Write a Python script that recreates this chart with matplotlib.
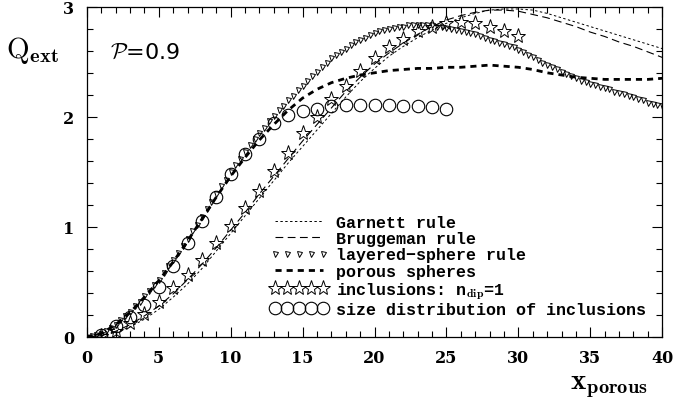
import matplotlib
matplotlib.use("Agg")
import matplotlib.pyplot as plt
from matplotlib.ticker import MultipleLocator

plt.rcParams['mathtext.fontset'] = 'cm'

# sample grid for the smooth curves
x_curve = list(range(41))

garnett = [0.00, 0.01, 0.04, 0.09, 0.16, 0.25, 0.36, 0.48, 0.62, 0.78,
           0.94, 1.10, 1.26, 1.42, 1.58, 1.73, 1.88, 2.03, 2.18, 2.32,
           2.44, 2.55, 2.64, 2.72, 2.79, 2.85, 2.90, 2.94, 2.97, 2.98,
           2.98, 2.97, 2.94, 2.90, 2.86, 2.82, 2.78, 2.74, 2.70, 2.66,
           2.62]

bruggeman = [0.00, 0.01, 0.05, 0.11, 0.19, 0.28, 0.39, 0.52, 0.66, 0.81,
             0.97, 1.13, 1.30, 1.46, 1.62, 1.78, 1.93, 2.08, 2.23, 2.36,
             2.48, 2.58, 2.67, 2.75, 2.82, 2.88, 2.92, 2.95, 2.97, 2.97,
             2.96, 2.93, 2.90, 2.86, 2.82, 2.77, 2.73, 2.68, 2.64, 2.59,
             2.54]

porous = [0.00, 0.03, 0.11, 0.22, 0.36, 0.51, 0.68, 0.87, 1.07, 1.27,
          1.46, 1.63, 1.79, 1.93, 2.06, 2.17, 2.25, 2.31, 2.35, 2.38,
          2.40, 2.42, 2.43, 2.44, 2.44, 2.45, 2.45, 2.46, 2.47, 2.46,
          2.45, 2.43, 2.40, 2.38, 2.36, 2.35, 2.34, 2.34, 2.34, 2.34,
          2.35]

# layered-sphere rule, sampled every 1/3
x_layered = [i / 3 for i in range(121)]
layered = [0.00, 0.005, 0.015, 0.03, 0.05, 0.08, 0.11, 0.15, 0.19, 0.23,
           0.28, 0.32, 0.37, 0.42, 0.47, 0.52, 0.58, 0.64, 0.70, 0.76,
           0.83, 0.89, 0.96, 1.02, 1.09, 1.16, 1.23, 1.30, 1.37, 1.43,
           1.50, 1.56, 1.62, 1.68, 1.74, 1.80, 1.85, 1.90, 1.96, 2.01,
           2.06, 2.10, 2.15, 2.19, 2.24, 2.28, 2.33, 2.37, 2.41, 2.45,
           2.49, 2.53, 2.56, 2.59, 2.62, 2.65, 2.68, 2.70, 2.72, 2.74,
           2.76, 2.78, 2.79, 2.80, 2.81, 2.82, 2.82, 2.83, 2.83, 2.83,
           2.83, 2.83, 2.83, 2.82, 2.82, 2.81, 2.80, 2.79, 2.78, 2.77,
           2.76, 2.75, 2.73, 2.72, 2.70, 2.69, 2.67, 2.66, 2.64, 2.63,
           2.61, 2.59, 2.56, 2.54, 2.52, 2.49, 2.47, 2.45, 2.43, 2.41,
           2.39, 2.37, 2.35, 2.33, 2.32, 2.30, 2.29, 2.27, 2.26, 2.25,
           2.23, 2.22, 2.21, 2.19, 2.18, 2.16, 2.15, 2.13, 2.12, 2.11,
           2.10]

# inclusions, n_dip = 1
x_incl = list(range(1, 31))
incl = [0.01, 0.05, 0.13, 0.21, 0.32, 0.44, 0.56, 0.70, 0.85, 1.01,
        1.17, 1.33, 1.51, 1.67, 1.85, 2.00, 2.16, 2.28, 2.42, 2.53,
        2.63, 2.71, 2.78, 2.82, 2.85, 2.86, 2.85, 2.82, 2.78, 2.73]

# size distribution of inclusions
x_sdist = list(range(1, 26))
sdist = [0.02, 0.10, 0.18, 0.29, 0.45, 0.64, 0.85, 1.05, 1.27, 1.48,
         1.66, 1.80, 1.94, 2.02, 2.05, 2.07, 2.10, 2.11, 2.11, 2.11,
         2.11, 2.10, 2.10, 2.09, 2.07]

fig = plt.figure(figsize=(6.73, 4.10), dpi=100)
ax = fig.add_axes([0.129, 0.176, 0.855, 0.805])

ax.plot(x_curve, garnett, color='k', lw=0.7, ls=(0, (2.5, 2.5)),
        label='Garnett rule')
ax.plot(x_curve, bruggeman, color='k', lw=0.8, ls=(0, (7, 4)),
        label='Bruggeman rule')
ax.plot(x_layered, layered, ls='none', marker='v', ms=3.6, mfc='none',
        mec='k', mew=0.7, label='layered\u2212sphere rule')
ax.plot(x_curve, porous, color='k', lw=2.0, ls=(0, (2.2, 1.8)),
        label='porous spheres')
ax.plot(x_incl, incl, ls='none', marker='*', ms=11, mfc='none',
        mec='k', mew=0.7, label=r'inclusions: n$_{\mathbf{dip}}$=1')
ax.plot(x_sdist, sdist, ls='none', marker='o', ms=9, mfc='none',
        mec='k', mew=0.8, label='size distribution of inclusions')

ax.set_xlim(0, 40)
ax.set_ylim(0, 3)
ax.xaxis.set_major_locator(MultipleLocator(5))
ax.xaxis.set_minor_locator(MultipleLocator(1))
ax.yaxis.set_major_locator(MultipleLocator(1))
ax.yaxis.set_minor_locator(MultipleLocator(0.2))
ax.tick_params(which='both', direction='in', top=True, right=True,
               width=0.8)
ax.tick_params(which='major', length=7)
ax.tick_params(which='minor', length=4)
ax.tick_params(axis='x', pad=9)
ax.tick_params(axis='y', pad=9)
for lab in ax.get_xticklabels() + ax.get_yticklabels():
    lab.set_fontfamily('DejaVu Serif')
    lab.set_fontweight('bold')
    lab.set_fontsize(11.5)
for s in ax.spines.values():
    s.set_linewidth(0.9)

leg = ax.legend(loc='upper left', bbox_to_anchor=(0.318, 0.37),
                frameon=False, numpoints=5, handlelength=3.5,
                handletextpad=0.45, labelspacing=0.08, borderpad=0,
                borderaxespad=0,
                prop={'family': 'Liberation Mono', 'weight': 'bold',
                      'size': 12})

fig.text(0.048, 0.878, r'$\mathrm{Q}_{\mathbf{ext}}$', fontsize=21,
         ha='center', va='center')
ax.text(0.04, 0.865, r'$\mathcal{P}$=0.9', transform=ax.transAxes,
        fontsize=16, ha='left', va='center', family='DejaVu Sans')
fig.text(0.904, 0.058, r'$\mathbf{x}_{\mathbf{porous}}$', fontsize=21,
         ha='center', va='center')

fig.savefig('out.png', dpi=100)
